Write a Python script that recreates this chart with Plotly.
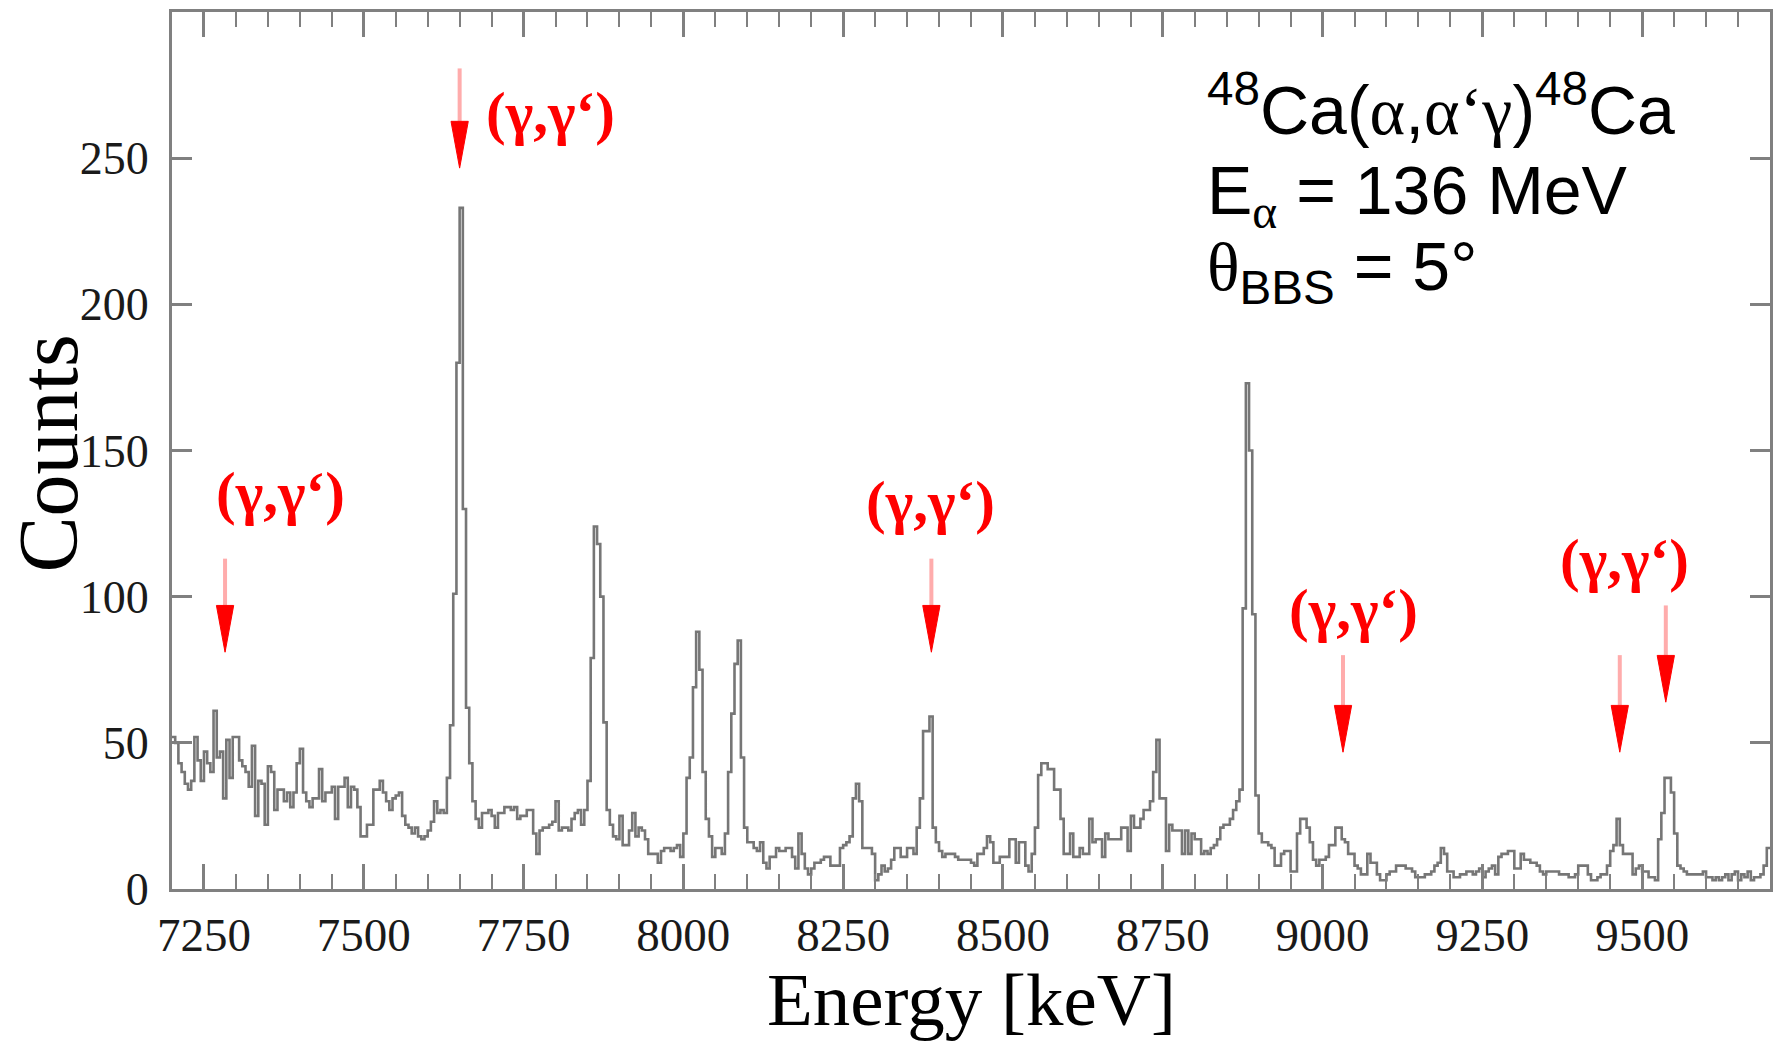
import plotly.graph_objects as go

# ---------------- data ----------------
e_start = 7200.0      # keV, lower edge of first bin
bin_width = 5.0       # keV

# counts per 5 keV bin, in consecutive segments
counts_7200 = [52, 50, 43, 40, 36, 34, 37, 52, 44, 37,
               47, 43, 40, 61, 45, 47, 31, 51, 38, 52,
               52, 44, 42, 40, 35, 49, 25, 37, 36, 22,
               42, 40, 27, 34, 34, 30, 33, 28, 33, 43,
               48, 33, 30, 28, 31, 31, 41, 30, 33, 33,
               35, 24, 35, 35, 38, 28, 35, 34, 28, 18,
               18, 22, 22, 34, 34, 37, 33, 30, 27, 31,
               32]
counts_7555 = [33, 25, 22, 21, 19, 21, 18, 17, 18, 20,
               23, 30, 26, 27, 26, 38, 56, 101, 180, 233,
               130, 62, 43, 30, 24, 21, 26, 26, 27, 25,
               21, 26, 26, 28, 28, 27, 28, 24, 25, 25,
               27, 27, 19, 12, 20, 21, 21, 22, 23, 30,
               20, 21, 21, 20, 24, 26, 27, 22, 27, 37,
               79, 124, 118, 100, 57, 27, 22, 18, 17, 25,
               15, 15, 20, 26, 18, 21, 20, 17, 12, 12,
               12, 9]
counts_7965 = [13, 14, 14, 13, 14, 15, 11, 19,
               38, 45, 69, 88, 75, 40, 24, 18, 11, 14,
               14, 12, 19, 40, 60, 77, 85, 45, 21, 16,
               16, 14, 13, 16, 9, 7, 11, 11, 14, 13,
               13, 14, 14, 11, 7, 19, 12, 7, 5, 7,
               9, 9, 10, 11, 11, 8, 8, 8, 14, 15,
               16, 18, 31, 36, 30, 14, 14, 14, 12, 3,
               5, 8, 6, 7, 10, 14, 14, 11, 11, 14,
               14, 12, 21]
counts_8370 = [31, 54, 54, 59, 21, 16, 13,
               11, 12, 12, 12, 11, 10, 10, 10, 10, 9,
               8, 12, 12, 14, 18, 16, 9, 9, 11, 11,
               11, 17, 17, 9, 16, 16, 8, 6, 12, 21,
               39, 43, 43, 41, 41, 34, 34, 24, 12, 12,
               19, 11, 11, 14, 12, 12, 24, 16, 17, 17,
               11, 19, 17, 17, 17, 17, 21, 21, 13, 25,
               21, 21, 24, 27, 27, 30, 40, 51, 31, 31,
               13, 22, 20, 20]
counts_8775 = [20, 12, 20, 12, 19, 17,
               17, 12, 13, 12, 14, 15, 17, 21, 22, 22,
               24, 27, 30, 34, 96, 173, 150, 94, 32, 19,
               16, 16, 15, 14, 8, 8, 12, 13, 13, 6,
               6, 19, 24, 24, 21, 16, 10, 8, 10, 10,
               11, 15, 15, 21, 21, 17, 16, 12, 12, 8,
               7, 5, 5, 12, 9, 9, 5, 3, 3, 5,
               6, 6, 8, 8, 8, 7, 7, 6, 4, 4,
               4, 5, 5, 6, 8]
counts_9180 = [9, 14, 12, 6, 6,
               4, 4, 5, 5, 6, 6, 5, 6, 7, 4,
               6, 7, 8, 5, 11, 12, 12, 13, 13, 7,
               7, 12, 10, 10, 9, 9, 8, 6, 5, 6,
               6, 6, 6, 5, 5, 5, 4, 4, 5, 8,
               8, 8, 5, 3, 3, 4, 5, 5, 8, 13,
               15, 24, 15, 12, 12, 12, 5, 7, 8, 6,
               6, 4, 4, 3, 17, 26, 38, 38, 33, 19,
               8, 7, 6, 5, 5, 5, 5]
counts_9590 = [5, 6, 4, 4, 3, 4, 3, 4, 5, 3,
               5, 6, 3, 5, 4, 6, 3, 4, 4, 5,
               8, 14]

counts = (counts_7200 + counts_7555 + counts_7965 + counts_8370
          + counts_8775 + counts_9180 + counts_9590)

x_ticks = [7250, 7500, 7750, 8000, 8250, 8500, 8750, 9000, 9250, 9500]
y_ticks = [0, 50, 100, 150, 200, 250]

# (gamma,gamma') arrows: energy, tip and tail in counts
arrow_energy = [7650, 7283, 8388, 9032, 9465, 9537]
arrow_tip = [246.6, 81, 81, 46.8, 46.8, 63.9]
arrow_tail = [280.7, 113, 113, 80, 80, 97]

# (gamma,gamma') labels: energy and counts of text centre
label_energy = [7792, 7369, 8387, 9048, 9473]
label_counts = [265.5, 135.5, 132.5, 95.5, 112.5]
label_text = "(γ,γ‘)"

# ---------------- figure ----------------
edges = [e_start + bin_width * i for i in range(len(counts) + 1)]
yvals = counts + [counts[-1]]

fig = go.Figure()
fig.add_trace(go.Scatter(
    x=edges, y=yvals, mode="lines",
    line=dict(color="#767676", width=2.6, shape="hv"),
    hoverinfo="skip", showlegend=False))

head_len = 16.0   # counts
head_hw = 13.5    # keV
for e, tip, tail in zip(arrow_energy, arrow_tip, arrow_tail):
    base = tip + head_len
    fig.add_shape(type="line", x0=e, x1=e, y0=tail, y1=base,
                  line=dict(color="rgba(255,70,70,0.45)", width=4))
    fig.add_shape(type="path",
                  path=f"M {e - head_hw},{base} L {e + head_hw},{base} L {e},{tip} Z",
                  fillcolor="#ff0000", line=dict(color="#ff0000", width=1))

for e, c in zip(label_energy, label_counts):
    fig.add_annotation(x=e, y=c, xref="x", yref="y", text=f"<b>{label_text}</b>",
                       showarrow=False, xanchor="center", yanchor="middle",
                       font=dict(family="Liberation Serif", size=59, color="#ff0000"))

serif = "font-family:'Liberation Serif'"
info_lines = [
    f"<sup>48</sup>Ca(<span style=\"{serif}\">α</span>,<span style=\"{serif}\">α‘γ</span>)<sup>48</sup>Ca",
    f"E<sub><span style=\"{serif}\">α</span></sub> = 136 MeV",
    f"<span style=\"{serif}\">θ</span><sub>BBS</sub> = 5°",
]
info_y = [0.8420, 0.7398, 0.6535]
for t, yy in zip(info_lines, info_y):
    fig.add_annotation(x=0.6464, y=yy, xref="paper", yref="paper", text=t,
                       showarrow=False, xanchor="left", yanchor="bottom",
                       font=dict(family="Liberation Sans", size=68, color="#000000"))

# axis titles
fig.add_annotation(x=0.5, y=-0.1258, xref="paper", yref="paper", text="Energy [keV]",
                   showarrow=False, xanchor="center", yanchor="middle",
                   font=dict(family="Liberation Serif", size=75, color="#000000"))
fig.add_annotation(x=-0.0776, y=0.4966, xref="paper", yref="paper", text="Counts",
                   showarrow=False, xanchor="center", yanchor="middle", textangle=-90,
                   font=dict(family="Liberation Serif", size=84, color="#000000"))

axis_grey = "#808080"
fig.update_xaxes(
    range=[7200, 9700], tickvals=x_ticks, ticktext=[str(v) for v in x_ticks],
    ticks="inside", ticklen=25, tickwidth=2.5, tickcolor=axis_grey,
    minor=dict(ticks="inside", dtick=50, tick0=7200, ticklen=15, tickwidth=2, tickcolor=axis_grey),
    showline=True, linecolor=axis_grey, linewidth=3, mirror="allticks",
    showgrid=False, zeroline=False,
    tickfont=dict(family="Liberation Serif", size=47, color="#1a1a1a"),
    ticklabelstandoff=3,
)
fig.update_yaxes(
    range=[0, 300], tickvals=y_ticks, ticktext=[str(v) for v in y_ticks],
    ticks="inside", ticklen=20, tickwidth=2.5, tickcolor=axis_grey,
    showline=True, linecolor=axis_grey, linewidth=3, mirror="allticks",
    showgrid=False, zeroline=False,
    tickfont=dict(family="Liberation Serif", size=46, color="#1a1a1a"),
    ticklabelstandoff=11,
)
fig.update_layout(
    width=1782, height=1043,
    margin=dict(l=172, r=12, t=9, b=154),
    plot_bgcolor="white", paper_bgcolor="white",
    showlegend=False,
)

fig.write_html("out.html")
